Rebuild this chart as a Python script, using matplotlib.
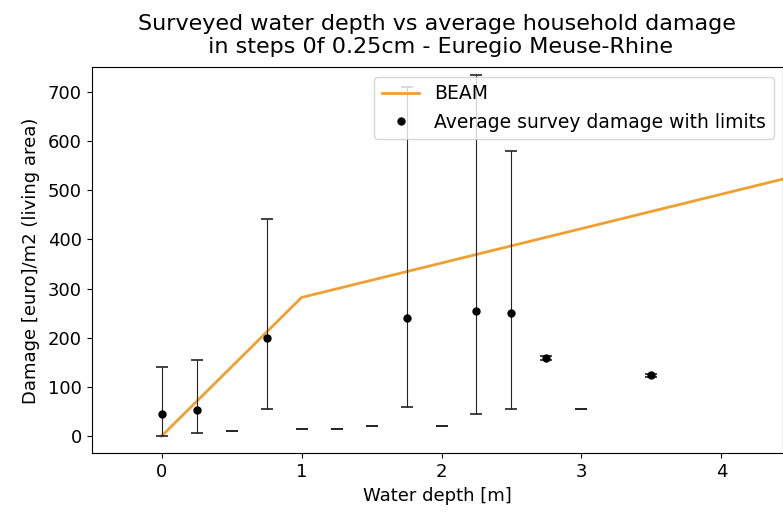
import matplotlib
matplotlib.use("Agg")
import matplotlib.pyplot as plt
import numpy as np

# BEAM depth-damage curve
beam_depth = [0.0, 1.0, 5.0]
beam_damage = [0, 282, 562]

# survey averages with min/max limits
depth = [0.0, 0.25, 0.75, 1.75, 2.25, 2.5, 2.75, 3.5]
avg_damage = [45, 53, 200, 240, 254, 251, 159, 124]
low_limit = [0, 6, 55, 60, 45, 55, 155, 121]
high_limit = [140, 155, 442, 710, 734, 580, 162, 127]

# depths with a single answer: only the (collapsed) limits show up
single_depth = [0.5, 1.0, 1.25, 1.5, 2.0, 3.0]
single_damage = [10, 14, 14, 21, 21, 55]

fig = plt.figure(figsize=(7.83, 5.14), dpi=100)
ax = fig.add_axes([0.117, 0.118, 0.883, 0.751])

ax.plot(beam_depth, beam_damage, color="#f0a030", lw=2, label="BEAM")

avg = np.array(avg_damage)
yerr = [avg - np.array(low_limit), np.array(high_limit) - avg]
ax.errorbar(depth, avg_damage, yerr=yerr, fmt="none", ecolor="#222222",
            elinewidth=0.8, capsize=4.5, capthick=1.2)
ax.errorbar(single_depth, single_damage, yerr=[[0] * 6, [0] * 6], fmt="none",
            ecolor="#222222", elinewidth=0.8, capsize=4.5, capthick=1.2)
ax.plot(depth, avg_damage, "o", color="black", ms=5,
        label="Average survey damage with limits")

ax.set_xlim(-0.5, 4.44)
ax.set_ylim(-35, 750)
ax.set_xticks([0, 1, 2, 3, 4])
ax.set_yticks(range(0, 701, 100))
ax.tick_params(labelsize=13)
ax.set_xlabel("Water depth [m]", fontsize=13)
ax.set_ylabel("Damage [euro]/m2 (living area)", fontsize=13, labelpad=6)
ax.set_title("Surveyed water depth vs average household damage\n"
             " in steps 0f 0.25cm - Euregio Meuse-Rhine", fontsize=16, pad=10)
ax.legend(loc="upper right", fontsize=13.5)

fig.savefig("out.png", dpi=100)
